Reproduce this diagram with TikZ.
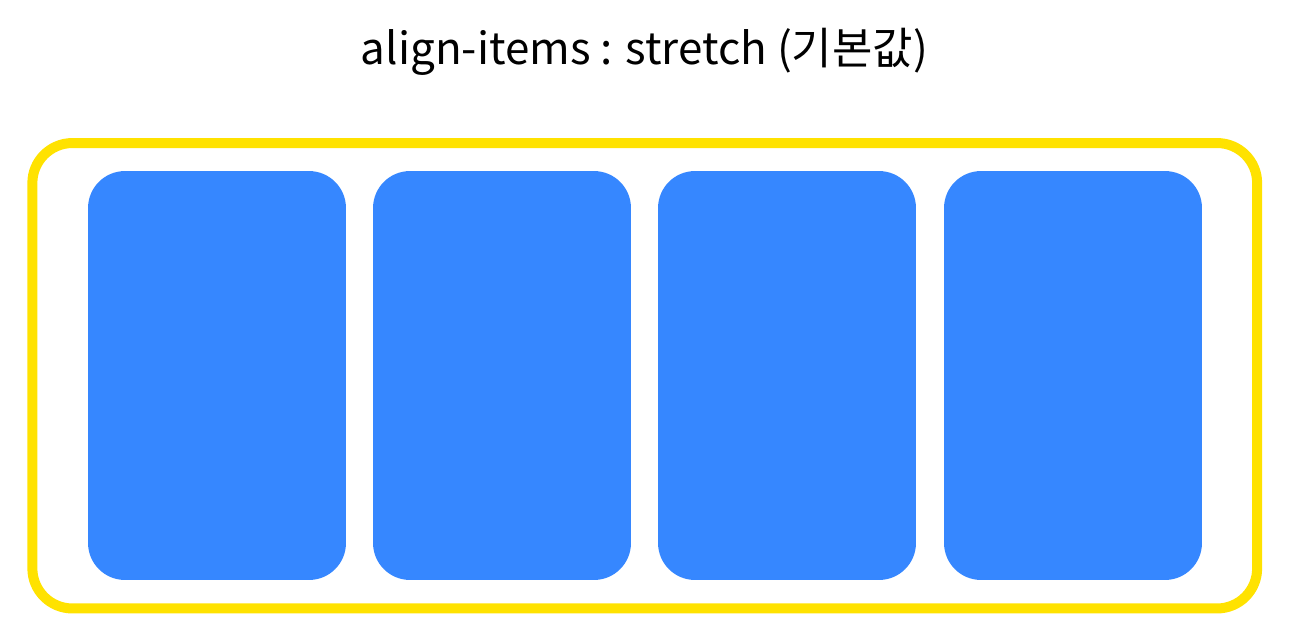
\documentclass[tikz,border=0pt]{standalone}
\usepackage{fontspec}
\setmainfont{Noto Sans CJK KR}
\usepackage{tikz}
\definecolor{boxyellow}{HTML}{FFE200}
\definecolor{itemblue}{HTML}{3687FF}
\tikzset{
	container/.style={draw=boxyellow,line width=0.2cm,rounded corners=0.8cm,
		minimum width=24.5cm,minimum height=9.31cm,inner sep=0},
	item/.style={fill=itemblue,rounded corners=0.74cm,
		minimum width=5.16cm,minimum height=8.18cm,inner sep=0},
	title/.style={font=\fontsize{25}{30}\selectfont}
}

\begin{document}
\begin{tikzpicture}
	[x=0.02cm,y=-0.02cm]
	\useasboundingbox (0,0) rectangle (1289,640);
	\node[title] (title) at (644.5,52) {align-items : stretch (기본값)};
	\node[container] (box) at (644.75,375.75) {};
	\foreach \n/\x in {1/217,2/502,3/787,4/1073}
	\node[item] (item\n) at (\x,375.5) {};
\end{tikzpicture}
\end{document}
